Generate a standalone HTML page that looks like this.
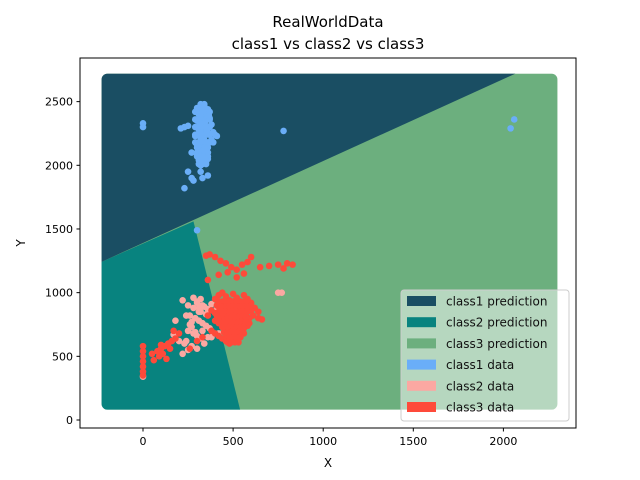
<!DOCTYPE html>
<html><head><meta charset="utf-8"><style>
body{margin:0;background:#fff;}
svg{display:block;font-family:"DejaVu Sans","Liberation Sans",sans-serif;}
</style></head><body>
<svg id="chart" width="640" height="480">
<rect width="640" height="480" fill="#fff"/>
<text x="328" y="27" text-anchor="middle" font-size="15" fill="#000">RealWorldData</text>
<text x="328" y="49" text-anchor="middle" font-size="15" fill="#000">class1 vs  class2 vs  class3</text>
<g id="regions"></g>
<g id="pts"></g>
<rect x="80" y="58" width="496" height="370" fill="none" stroke="#000" stroke-width="1"/>
<g id="axes"></g>
<text x="328" y="467" text-anchor="middle" font-size="12">X</text>
<text x="25" y="243" text-anchor="middle" font-size="12" transform="rotate(-90 25 243)">Y</text>
<g>
<rect x="401" y="290" width="168" height="131" rx="3" fill="#fff" fill-opacity="0.5" stroke="#ccc"/>
<g id="legend"></g>
</g>
</svg>
<script>
const xTicks=[0,500,1000,1500,2000];
const yTicks=[0,500,1000,1500,2000,2500];
const xMin=-230,xMax=2300,yMin=80,yMax=2720;
const boundaryLeftY=1242, boundaryRightX=2067, junction=[280,1560], bottomX=539;
const legendLabels=["class1 prediction","class2 prediction","class3 prediction","class1 data","class2 data","class3 data"];
const legendColors=["#1a4e63","#08837f","#6caf7e","#6aaef8","#fba8a2","#fe4a3a"];
const class1X=[300,320,340,360,310,330,350,370,300,320,340,360,380,310,330,350,290,320,340,360,380,300,330,350,310,340,320,330,350,360,340,320,210,230,250,390,400,270,300,380,410,320,230,280,0,0,780,2040,2060,390,330,360,270,250,300,
 290,310,330,350,370,290,310,330,350,370,290,310,330,350,370,290,310,330,350,370,290,310,330,350,370,300,320,340,360,300,320,340,360,300,320,340,360,310,330,350,310,330,350,320,340,330,345,355,325,315,335,345,365,305,325];
const class1Y=[2450,2460,2470,2440,2400,2380,2390,2370,2350,2330,2310,2300,2320,2280,2260,2250,2230,2210,2200,2180,2200,2160,2140,2120,2100,2080,2060,2040,2030,2050,2020,2000,2290,2300,2310,2260,2240,2100,2090,2250,2230,1950,1820,1880,2330,2300,2270,2290,2360,2180,1900,1920,1900,1950,1490,
 2420,2420,2420,2420,2420,2360,2360,2360,2360,2360,2300,2300,2300,2300,2300,2240,2240,2240,2240,2240,2180,2180,2180,2180,2180,2140,2140,2140,2140,2100,2100,2100,2100,2070,2070,2070,2070,2040,2040,2040,2010,2010,2010,2480,2480,2440,2340,2270,2210,2330,2120,2060,2390,2150,2050];
const class2X=[220,250,280,300,320,340,360,380,400,260,290,310,330,350,370,250,280,300,320,200,230,270,180,170,220,250,300,340,380,420,450,310,350,270,750,770,240,0,310,330,280,300,320,260,290,330,360,240,270];
const class2Y=[940,900,880,920,950,890,870,910,860,820,800,780,760,740,720,700,680,660,640,620,600,580,780,670,520,550,560,600,650,680,720,850,830,730,1000,1000,620,340,880,900,960,930,850,750,690,700,650,820,770];
const class3X=[400,420,440,460,480,500,520,540,560,580,600,620,640,410,430,450,470,490,510,530,550,570,590,440,460,480,500,520,540,560,380,400,420,440,460,480,500,520,540,560,580,360,380,400,420,450,480,510,540,570,600,640,660,350,370,400,430,460,490,520,550,580,600,650,700,750,780,800,830,360,420,470,520,560,0,0,0,0,0,0,0,50,80,100,120,140,160,180,200,60,90,110,130,150,100,170,260,300,330,
 420,440,460,480,500,520,540,560,580,420,440,460,480,500,520,540,560,580,420,440,460,480,500,520,540,560,580,430,450,470,490,510,530,550,570,430,450,470,490,510,530,550,570,440,460,480,500,520,540,560,450,470,490,510,530,550,460,480,500,520,540,470,490,510,530,400,410,600,610,590];
const class3Y=[950,980,1000,970,940,990,960,930,980,950,920,880,850,900,870,850,830,810,790,770,760,780,800,750,730,710,690,670,650,720,700,680,660,640,620,600,640,620,700,680,740,820,860,840,760,900,880,860,840,820,860,800,790,1290,1300,1280,1250,1230,1200,1180,1220,1240,1280,1200,1210,1220,1190,1230,1220,1100,1140,1160,1120,1150,580,540,500,460,420,380,350,520,540,560,580,600,620,640,680,470,500,520,480,560,590,700,560,620,650,
 930,930,930,930,930,930,930,930,930,890,890,890,890,890,890,890,890,890,850,850,850,850,850,850,850,850,850,810,810,810,810,810,810,810,810,770,770,770,770,770,770,770,770,730,730,730,730,730,730,730,690,690,690,690,690,690,650,650,650,650,650,610,610,610,610,780,820,900,820,760];
const ns='http://www.w3.org/2000/svg';
const sx=v=>143+(v-0)*0.1802;
const sy=v=>420-v*0.12735;
function mk(tag,attrs,parent){const e=document.createElementNS(ns,tag);for(const k in attrs)e.setAttribute(k,attrs[k]);parent.appendChild(e);return e;}
const R=document.getElementById('regions');
const cp=mk('clipPath',{id:'rc'},R);
mk('rect',{x:sx(xMin),y:sy(yMax),width:sx(xMax)-sx(xMin),height:sy(yMin)-sy(yMax),rx:6},cp);
const gR=mk('g',{'clip-path':'url(#rc)'},R);
let p=mk('polygon',{points:`${sx(xMin)},${sy(yMin)} ${sx(xMax)},${sy(yMin)} ${sx(xMax)},${sy(yMax)} ${sx(xMin)},${sy(yMax)}`,fill:legendColors[2]},gR);

p=mk('polygon',{points:`${sx(xMin)},${sy(boundaryLeftY)} ${sx(junction[0])},${sy(junction[1])} ${sx(bottomX)},${sy(yMin)} ${sx(xMin)},${sy(yMin)}`,fill:legendColors[1]},gR);

p=mk('polygon',{points:`${sx(xMin)},${sy(yMax)} ${sx(boundaryRightX)},${sy(yMax)} ${sx(xMin)},${sy(boundaryLeftY)}`,fill:legendColors[0]},gR);

const P=document.getElementById('pts');
function series(xs,ys,col,name){for(let i=0;i<xs.length;i++){const c=mk('circle',{cx:sx(xs[i]),cy:sy(ys[i]),r:3.3,fill:col},P);}}
series(class1X,class1Y,legendColors[3],'class1-point');
series(class2X,class2Y,legendColors[4],'class2-point');
series(class3X,class3Y,legendColors[5],'class3-point');
const A=document.getElementById('axes');
xTicks.forEach(t=>{const x=sx(t);mk('line',{x1:x,x2:x,y1:428,y2:431.5,stroke:'#000'},A);const tx=mk('text',{x:x,y:445,'text-anchor':'middle','font-size':'11'},A);tx.textContent=t;});
yTicks.forEach(t=>{const y=sy(t);mk('line',{x1:76.5,x2:80,y1:y,y2:y,stroke:'#000'},A);const tx=mk('text',{x:73,y:y+4,'text-anchor':'end','font-size':'11'},A);tx.textContent=t;});
const L=document.getElementById('legend');
legendLabels.forEach((lab,i)=>{const y=301+i*21.2;const r=mk('rect',{x:407,y:y-5,width:29,height:10,fill:legendColors[i]},L);const t=mk('text',{x:446,y:y+4.5,'font-size':'12',fill:'#111'},L);t.textContent=lab;});
</script>
</body></html>
